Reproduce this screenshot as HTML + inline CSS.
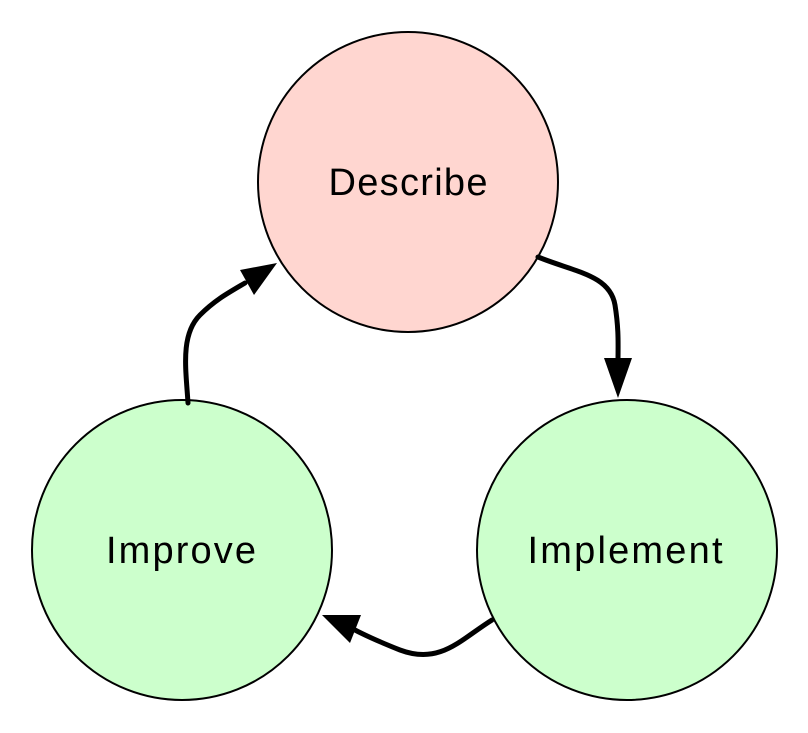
<!DOCTYPE html>
<html><head><meta charset="utf-8"><style>
html,body{margin:0;padding:0;background:#fff;}
svg{display:block;}
text{font-family:"Liberation Sans",sans-serif;font-size:38px;fill:#000;}
</style></head><body>
<svg width="808" height="733" viewBox="0 0 808 733" xmlns="http://www.w3.org/2000/svg">
<circle cx="408" cy="182" r="150" fill="#ffd6d0" stroke="#000" stroke-width="2"/>
<circle cx="182" cy="550" r="150" fill="#ccffcc" stroke="#000" stroke-width="2"/>
<circle cx="627" cy="550" r="150" fill="#ccffcc" stroke="#000" stroke-width="2"/>
<text x="408" y="195" text-anchor="middle" textLength="159">Describe</text>
<text x="181" y="563" text-anchor="middle" textLength="150">Improve</text>
<text x="625" y="563" text-anchor="middle" textLength="195">Implement</text>
<g fill="none" stroke="#000" stroke-width="5" stroke-linecap="round">
<path d="M538 257 C575 272 610 275 615 305 C619 330 618 345 618 362"/>
<path d="M492 620 C460 640 440 665 400 650 C385 644 370 638 355 630"/>
<path d="M188 403 C186 370 180 335 200 315 C215 300 228 293 245 283"/>
</g>
<polygon points="618,398 604,358 632,358" fill="#000"/>
<polygon points="322,615 361,615 350,643" fill="#000"/>
<polygon points="277,263 240,270 254,295" fill="#000"/>
</svg>
</body></html>
